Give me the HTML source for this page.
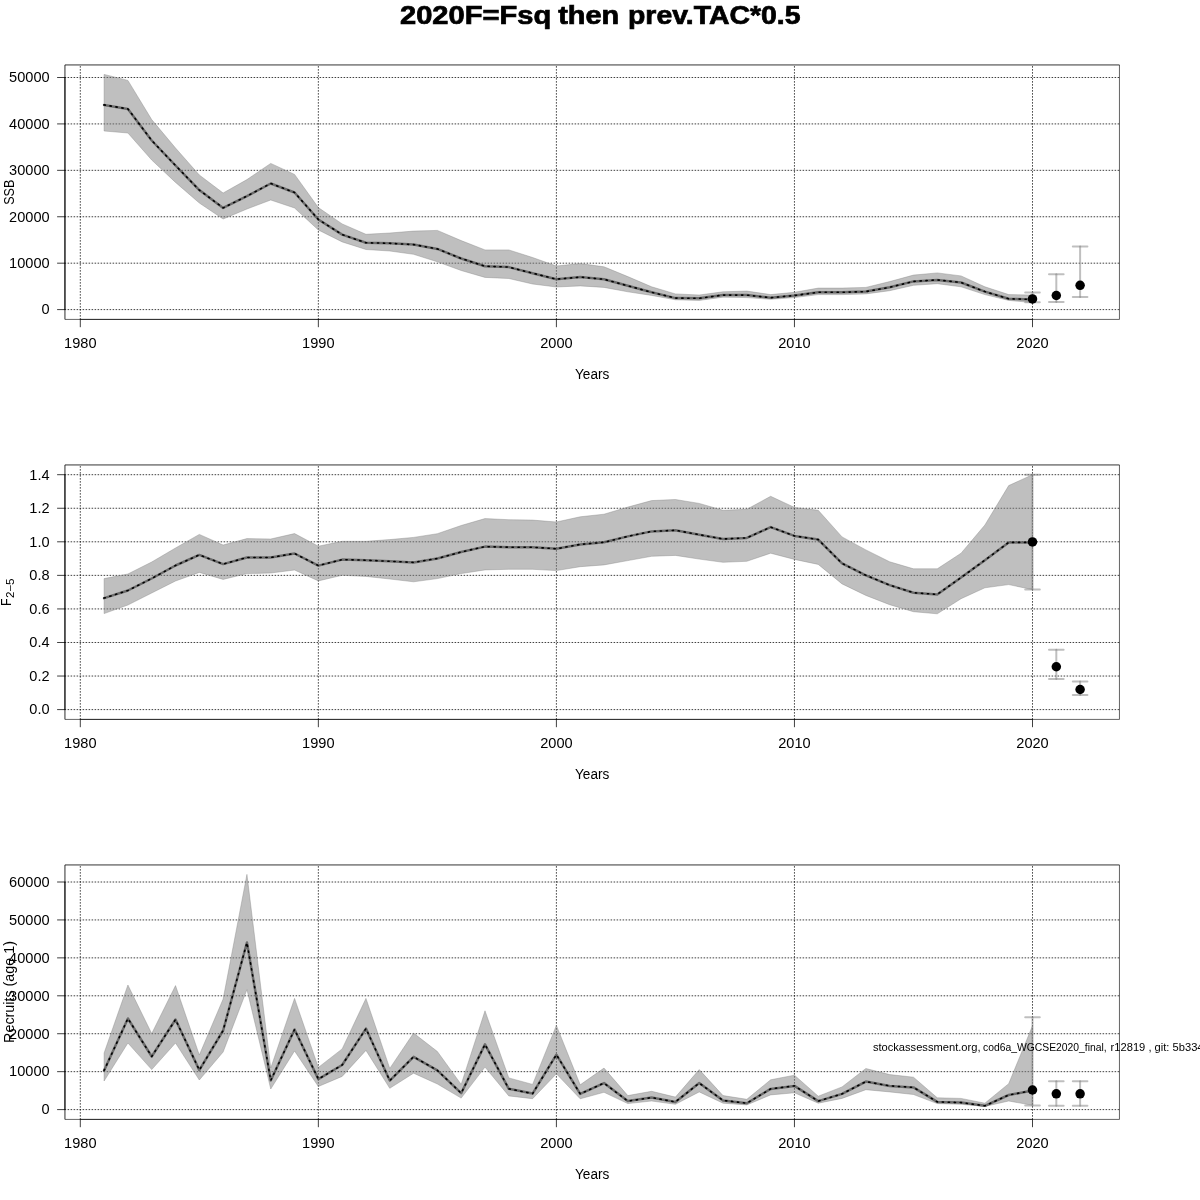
<!DOCTYPE html><html><head><meta charset="utf-8"><style>html,body{margin:0;padding:0;background:#fff;width:1200px;height:1200px;overflow:hidden}svg{display:block;will-change:transform}text{font-family:"Liberation Sans",sans-serif}</style></head><body>
<svg width="1200" height="1200" viewBox="0 0 1200 1200">
<rect width="1200" height="1200" fill="#fff"/>
<line x1="80.3" y1="65" x2="80.3" y2="319.3" stroke="#000" stroke-width="0.75" stroke-dasharray="0.75 2.25" stroke-dashoffset="1.5" stroke-linecap="round"/>
<line x1="318.35" y1="65" x2="318.35" y2="319.3" stroke="#000" stroke-width="0.75" stroke-dasharray="0.75 2.25" stroke-dashoffset="1.5" stroke-linecap="round"/>
<line x1="556.4" y1="65" x2="556.4" y2="319.3" stroke="#000" stroke-width="0.75" stroke-dasharray="0.75 2.25" stroke-dashoffset="1.5" stroke-linecap="round"/>
<line x1="794.45" y1="65" x2="794.45" y2="319.3" stroke="#000" stroke-width="0.75" stroke-dasharray="0.75 2.25" stroke-dashoffset="1.5" stroke-linecap="round"/>
<line x1="1032.5" y1="65" x2="1032.5" y2="319.3" stroke="#000" stroke-width="0.75" stroke-dasharray="0.75 2.25" stroke-dashoffset="1.5" stroke-linecap="round"/>
<line x1="65" y1="309.6" x2="1119.4" y2="309.6" stroke="#000" stroke-width="0.75" stroke-dasharray="0.75 2.25" stroke-linecap="round"/>
<line x1="65" y1="263.18" x2="1119.4" y2="263.18" stroke="#000" stroke-width="0.75" stroke-dasharray="0.75 2.25" stroke-linecap="round"/>
<line x1="65" y1="216.76" x2="1119.4" y2="216.76" stroke="#000" stroke-width="0.75" stroke-dasharray="0.75 2.25" stroke-linecap="round"/>
<line x1="65" y1="170.34" x2="1119.4" y2="170.34" stroke="#000" stroke-width="0.75" stroke-dasharray="0.75 2.25" stroke-linecap="round"/>
<line x1="65" y1="123.92" x2="1119.4" y2="123.92" stroke="#000" stroke-width="0.75" stroke-dasharray="0.75 2.25" stroke-linecap="round"/>
<line x1="65" y1="77.5" x2="1119.4" y2="77.5" stroke="#000" stroke-width="0.75" stroke-dasharray="0.75 2.25" stroke-linecap="round"/>
<polyline fill="none" stroke="rgba(0,0,0,0.65)" stroke-width="2.5" stroke-linejoin="round" stroke-linecap="round" points="104.1,104.9 127.91,108.9 151.71,140.5 175.52,165.5 199.32,190.1 223.13,207.9 246.94,196.1 270.74,183.5 294.55,192.5 318.35,219.5 342.16,234.6 365.96,242.8 389.76,243.3 413.57,244.6 437.38,248.9 461.18,258.5 484.99,266.2 508.79,267.1 532.6,273.2 556.4,279.2 580.2,277.1 604.01,279.3 627.81,285.8 651.62,292.3 675.42,298.1 699.23,298.3 723.03,295.1 746.84,295.1 770.64,297.7 794.45,295.5 818.25,292.3 842.06,292.3 865.86,291.6 889.67,287.3 913.47,281.4 937.28,279.9 961.08,282.5 984.89,291.6 1008.69,298.8 1032.5,299.4"/>
<polygon fill="rgba(127,127,127,0.5)" stroke="rgba(127,127,127,0.5)" stroke-width="0.75" stroke-linejoin="round" points="104.1,74.4 127.91,80.4 151.71,119.6 175.52,148 199.32,175 223.13,193 246.94,179.6 270.74,163.4 294.55,174.4 318.35,207.6 342.16,223.9 365.96,234.3 389.76,233 413.57,231.1 437.38,230.4 461.18,240.6 484.99,249.9 508.79,249.9 532.6,257.5 556.4,266 580.2,263.6 604.01,266.8 627.81,276.6 651.62,286.8 675.42,293.9 699.23,295 723.03,291.8 746.84,291.1 770.64,294.6 794.45,292.3 818.25,288.1 842.06,288.1 865.86,287.4 889.67,281.6 913.47,275.1 937.28,272.9 961.08,275.9 984.89,286.8 1008.69,294.6 1032.5,295 1032.5,302.6 1008.69,300.4 984.89,294.6 961.08,286.8 937.28,283.7 913.47,285.3 889.67,290.7 865.86,293.9 842.06,294.6 818.25,294.6 794.45,297.6 770.64,299.3 746.84,297.6 723.03,297.2 699.23,300.4 675.42,299.8 651.62,295.4 627.81,291.8 604.01,287.4 580.2,285.9 556.4,287 532.6,284 508.79,278.5 484.99,277.4 461.18,270.5 437.38,261.8 413.57,254.3 389.76,251 365.96,249.5 342.16,241.9 318.35,230 294.55,208 270.74,200 246.94,209 223.13,219 199.32,203 175.52,182.4 151.71,160 127.91,133 104.1,131"/>
<polyline fill="none" stroke="#000" stroke-width="1.6" stroke-dasharray="1.25 4.75" stroke-linejoin="round" stroke-linecap="round" points="104.1,104.9 127.91,108.9 151.71,140.5 175.52,165.5 199.32,190.1 223.13,207.9 246.94,196.1 270.74,183.5 294.55,192.5 318.35,219.5 342.16,234.6 365.96,242.8 389.76,243.3 413.57,244.6 437.38,248.9 461.18,258.5 484.99,266.2 508.79,267.1 532.6,273.2 556.4,279.2 580.2,277.1 604.01,279.3 627.81,285.8 651.62,292.3 675.42,298.1 699.23,298.3 723.03,295.1 746.84,295.1 770.64,297.7 794.45,295.5 818.25,292.3 842.06,292.3 865.86,291.6 889.67,287.3 913.47,281.4 937.28,279.9 961.08,282.5 984.89,291.6 1008.69,298.8 1032.5,299.4"/>
<path d="M1032.5 292.6V302.3" stroke="rgba(127,127,127,0.5)" stroke-width="2" stroke-linecap="round" fill="none"/>
<path d="M1025.2 292.6H1039.8" stroke="rgba(127,127,127,0.5)" stroke-width="2" stroke-linecap="round" fill="none"/>
<path d="M1025.2 302.3H1039.8" stroke="rgba(127,127,127,0.5)" stroke-width="2" stroke-linecap="round" fill="none"/>
<path d="M1056.31 274.2V302.1" stroke="rgba(127,127,127,0.5)" stroke-width="2" stroke-linecap="round" fill="none"/>
<path d="M1049.01 274.2H1063.61" stroke="rgba(127,127,127,0.5)" stroke-width="2" stroke-linecap="round" fill="none"/>
<path d="M1049.01 302.1H1063.61" stroke="rgba(127,127,127,0.5)" stroke-width="2" stroke-linecap="round" fill="none"/>
<path d="M1080.11 246.5V297.1" stroke="rgba(127,127,127,0.5)" stroke-width="2" stroke-linecap="round" fill="none"/>
<path d="M1072.81 246.5H1087.41" stroke="rgba(127,127,127,0.5)" stroke-width="2" stroke-linecap="round" fill="none"/>
<path d="M1072.81 297.1H1087.41" stroke="rgba(127,127,127,0.5)" stroke-width="2" stroke-linecap="round" fill="none"/>
<circle cx="1032.5" cy="298.9" r="4.75" fill="#000"/>
<circle cx="1056.31" cy="295.5" r="4.75" fill="#000"/>
<circle cx="1080.11" cy="285.3" r="4.75" fill="#000"/>
<path d="M64.95 64.95H1119.45" stroke="#000" stroke-width="0.8" fill="none"/>
<path d="M64.95 64.95V319.42" stroke="#000" stroke-width="0.83" fill="none"/>
<path d="M1119.45 64.95V319.42" stroke="#000" stroke-width="0.62" fill="none"/>
<path d="M64.95 319.42H1119.45" stroke="#000" stroke-width="0.6" fill="none"/>
<line x1="64.95" y1="77.5" x2="64.95" y2="309.6" stroke="#000" stroke-width="0.83"/>
<line x1="57.1" y1="309.6" x2="65" y2="309.6" stroke="#000" stroke-width="0.75"/>
<text x="49.6" y="314.4" font-size="14.0" text-anchor="end" textLength="8.1" lengthAdjust="spacingAndGlyphs">0</text>
<line x1="57.1" y1="263.18" x2="65" y2="263.18" stroke="#000" stroke-width="0.75"/>
<text x="49.6" y="267.98" font-size="14.0" text-anchor="end" textLength="40.52" lengthAdjust="spacingAndGlyphs">10000</text>
<line x1="57.1" y1="216.76" x2="65" y2="216.76" stroke="#000" stroke-width="0.75"/>
<text x="49.6" y="221.56" font-size="14.0" text-anchor="end" textLength="40.52" lengthAdjust="spacingAndGlyphs">20000</text>
<line x1="57.1" y1="170.34" x2="65" y2="170.34" stroke="#000" stroke-width="0.75"/>
<text x="49.6" y="175.14" font-size="14.0" text-anchor="end" textLength="40.52" lengthAdjust="spacingAndGlyphs">30000</text>
<line x1="57.1" y1="123.92" x2="65" y2="123.92" stroke="#000" stroke-width="0.75"/>
<text x="49.6" y="128.72" font-size="14.0" text-anchor="end" textLength="40.52" lengthAdjust="spacingAndGlyphs">40000</text>
<line x1="57.1" y1="77.5" x2="65" y2="77.5" stroke="#000" stroke-width="0.75"/>
<text x="49.6" y="82.3" font-size="14.0" text-anchor="end" textLength="40.52" lengthAdjust="spacingAndGlyphs">50000</text>
<line x1="80.3" y1="319.42" x2="1032.5" y2="319.42" stroke="#000" stroke-width="0.6"/>
<line x1="80.3" y1="319.3" x2="80.3" y2="327.2" stroke="#000" stroke-width="0.75"/>
<text x="80.3" y="347.9" font-size="14.0" text-anchor="middle" textLength="32.42" lengthAdjust="spacingAndGlyphs">1980</text>
<line x1="318.35" y1="319.3" x2="318.35" y2="327.2" stroke="#000" stroke-width="0.75"/>
<text x="318.35" y="347.9" font-size="14.0" text-anchor="middle" textLength="32.42" lengthAdjust="spacingAndGlyphs">1990</text>
<line x1="556.4" y1="319.3" x2="556.4" y2="327.2" stroke="#000" stroke-width="0.75"/>
<text x="556.4" y="347.9" font-size="14.0" text-anchor="middle" textLength="32.42" lengthAdjust="spacingAndGlyphs">2000</text>
<line x1="794.45" y1="319.3" x2="794.45" y2="327.2" stroke="#000" stroke-width="0.75"/>
<text x="794.45" y="347.9" font-size="14.0" text-anchor="middle" textLength="32.42" lengthAdjust="spacingAndGlyphs">2010</text>
<line x1="1032.5" y1="319.3" x2="1032.5" y2="327.2" stroke="#000" stroke-width="0.75"/>
<text x="1032.5" y="347.9" font-size="14.0" text-anchor="middle" textLength="32.42" lengthAdjust="spacingAndGlyphs">2020</text>
<text x="592.2" y="378.8" font-size="14.0" text-anchor="middle" textLength="34.3" lengthAdjust="spacingAndGlyphs">Years</text>
<text transform="translate(13.8,192.3) rotate(-90)" font-size="14" text-anchor="middle" textLength="25.1" lengthAdjust="spacingAndGlyphs">SSB</text>
<line x1="80.3" y1="465" x2="80.3" y2="719.3" stroke="#000" stroke-width="0.75" stroke-dasharray="0.75 2.25" stroke-dashoffset="1.5" stroke-linecap="round"/>
<line x1="318.35" y1="465" x2="318.35" y2="719.3" stroke="#000" stroke-width="0.75" stroke-dasharray="0.75 2.25" stroke-dashoffset="1.5" stroke-linecap="round"/>
<line x1="556.4" y1="465" x2="556.4" y2="719.3" stroke="#000" stroke-width="0.75" stroke-dasharray="0.75 2.25" stroke-dashoffset="1.5" stroke-linecap="round"/>
<line x1="794.45" y1="465" x2="794.45" y2="719.3" stroke="#000" stroke-width="0.75" stroke-dasharray="0.75 2.25" stroke-dashoffset="1.5" stroke-linecap="round"/>
<line x1="1032.5" y1="465" x2="1032.5" y2="719.3" stroke="#000" stroke-width="0.75" stroke-dasharray="0.75 2.25" stroke-dashoffset="1.5" stroke-linecap="round"/>
<line x1="65" y1="709.6" x2="1119.4" y2="709.6" stroke="#000" stroke-width="0.75" stroke-dasharray="0.75 2.25" stroke-linecap="round"/>
<line x1="65" y1="676.04" x2="1119.4" y2="676.04" stroke="#000" stroke-width="0.75" stroke-dasharray="0.75 2.25" stroke-linecap="round"/>
<line x1="65" y1="642.49" x2="1119.4" y2="642.49" stroke="#000" stroke-width="0.75" stroke-dasharray="0.75 2.25" stroke-linecap="round"/>
<line x1="65" y1="608.93" x2="1119.4" y2="608.93" stroke="#000" stroke-width="0.75" stroke-dasharray="0.75 2.25" stroke-linecap="round"/>
<line x1="65" y1="575.37" x2="1119.4" y2="575.37" stroke="#000" stroke-width="0.75" stroke-dasharray="0.75 2.25" stroke-linecap="round"/>
<line x1="65" y1="541.81" x2="1119.4" y2="541.81" stroke="#000" stroke-width="0.75" stroke-dasharray="0.75 2.25" stroke-linecap="round"/>
<line x1="65" y1="508.26" x2="1119.4" y2="508.26" stroke="#000" stroke-width="0.75" stroke-dasharray="0.75 2.25" stroke-linecap="round"/>
<line x1="65" y1="474.7" x2="1119.4" y2="474.7" stroke="#000" stroke-width="0.75" stroke-dasharray="0.75 2.25" stroke-linecap="round"/>
<polyline fill="none" stroke="rgba(0,0,0,0.65)" stroke-width="2.5" stroke-linejoin="round" stroke-linecap="round" points="104.1,598.1 127.91,590.5 151.71,578.5 175.52,565.5 199.32,554.9 223.13,564.1 246.94,557.5 270.74,557.5 294.55,553.5 318.35,565.6 342.16,559.6 365.96,560.2 389.76,561.3 413.57,562.4 437.38,558.5 461.18,552 484.99,546.6 508.79,547.2 532.6,547.2 556.4,548.8 580.2,544.4 604.01,542.3 627.81,536.4 651.62,531.4 675.42,530.3 699.23,534.7 723.03,539 746.84,537.9 770.64,527.1 794.45,535.9 818.25,539.6 842.06,563.4 865.86,575.3 889.67,585.1 913.47,592.7 937.28,594.4 961.08,577.5 984.89,560.2 1008.69,542.4 1032.5,542.4"/>
<polygon fill="rgba(127,127,127,0.5)" stroke="rgba(127,127,127,0.5)" stroke-width="0.75" stroke-linejoin="round" points="104.1,578.6 127.91,574 151.71,562 175.52,548 199.32,534.4 223.13,545 246.94,538.6 270.74,539 294.55,533.6 318.35,546.2 342.16,541.3 365.96,541.3 389.76,539.6 413.57,537.4 437.38,533.7 461.18,525.5 484.99,518.6 508.79,519.7 532.6,520.1 556.4,522 580.2,516.8 604.01,514.2 627.81,507.1 651.62,500.6 675.42,499.5 699.23,503.4 723.03,510.3 746.84,509.3 770.64,496.3 794.45,507.4 818.25,510.3 842.06,536.9 865.86,549.9 889.67,561.8 913.47,568.8 937.28,568.8 961.08,553.2 984.89,525 1008.69,485.6 1032.5,474.7 1032.5,589.6 1008.69,584.6 984.89,587.8 961.08,598.7 937.28,613.8 913.47,611.7 889.67,604.7 865.86,595.4 842.06,583.9 818.25,564.4 794.45,559.4 770.64,553.2 746.84,561.3 723.03,562.3 699.23,559.1 675.42,555.4 651.62,556.3 627.81,560.6 604.01,564.9 580.2,566.7 556.4,570.6 532.6,569.3 508.79,569.3 484.99,569.9 461.18,573.6 437.38,578.6 413.57,581.8 389.76,579 365.96,576.4 342.16,575.3 318.35,580.9 294.55,570 270.74,573 246.94,573.6 223.13,579.4 199.32,572.4 175.52,581 151.71,593 127.91,605 104.1,613.6"/>
<polyline fill="none" stroke="#000" stroke-width="1.6" stroke-dasharray="1.25 4.75" stroke-linejoin="round" stroke-linecap="round" points="104.1,598.1 127.91,590.5 151.71,578.5 175.52,565.5 199.32,554.9 223.13,564.1 246.94,557.5 270.74,557.5 294.55,553.5 318.35,565.6 342.16,559.6 365.96,560.2 389.76,561.3 413.57,562.4 437.38,558.5 461.18,552 484.99,546.6 508.79,547.2 532.6,547.2 556.4,548.8 580.2,544.4 604.01,542.3 627.81,536.4 651.62,531.4 675.42,530.3 699.23,534.7 723.03,539 746.84,537.9 770.64,527.1 794.45,535.9 818.25,539.6 842.06,563.4 865.86,575.3 889.67,585.1 913.47,592.7 937.28,594.4 961.08,577.5 984.89,560.2 1008.69,542.4 1032.5,542.4"/>
<path d="M1032.5 474.7V589.6" stroke="rgba(127,127,127,0.5)" stroke-width="2" stroke-linecap="round" fill="none"/>
<path d="M1025.2 474.7H1039.8" stroke="rgba(127,127,127,0.5)" stroke-width="2" stroke-linecap="round" fill="none"/>
<path d="M1025.2 589.6H1039.8" stroke="rgba(127,127,127,0.5)" stroke-width="2" stroke-linecap="round" fill="none"/>
<path d="M1056.31 649.7V679" stroke="rgba(127,127,127,0.5)" stroke-width="2" stroke-linecap="round" fill="none"/>
<path d="M1049.01 649.7H1063.61" stroke="rgba(127,127,127,0.5)" stroke-width="2" stroke-linecap="round" fill="none"/>
<path d="M1049.01 679H1063.61" stroke="rgba(127,127,127,0.5)" stroke-width="2" stroke-linecap="round" fill="none"/>
<path d="M1080.11 681.4V695.1" stroke="rgba(127,127,127,0.5)" stroke-width="2" stroke-linecap="round" fill="none"/>
<path d="M1072.81 681.4H1087.41" stroke="rgba(127,127,127,0.5)" stroke-width="2" stroke-linecap="round" fill="none"/>
<path d="M1072.81 695.1H1087.41" stroke="rgba(127,127,127,0.5)" stroke-width="2" stroke-linecap="round" fill="none"/>
<circle cx="1032.5" cy="541.9" r="4.75" fill="#000"/>
<circle cx="1056.31" cy="666.75" r="4.75" fill="#000"/>
<circle cx="1080.11" cy="689.5" r="4.75" fill="#000"/>
<path d="M64.95 464.95H1119.45" stroke="#000" stroke-width="0.8" fill="none"/>
<path d="M64.95 464.95V719.42" stroke="#000" stroke-width="0.83" fill="none"/>
<path d="M1119.45 464.95V719.42" stroke="#000" stroke-width="0.62" fill="none"/>
<path d="M64.95 719.42H1119.45" stroke="#000" stroke-width="0.6" fill="none"/>
<line x1="64.95" y1="474.7" x2="64.95" y2="709.6" stroke="#000" stroke-width="0.83"/>
<line x1="57.1" y1="709.6" x2="65" y2="709.6" stroke="#000" stroke-width="0.75"/>
<text x="49.6" y="714.4" font-size="14.0" text-anchor="end" textLength="20.26" lengthAdjust="spacingAndGlyphs">0.0</text>
<line x1="57.1" y1="676.04" x2="65" y2="676.04" stroke="#000" stroke-width="0.75"/>
<text x="49.6" y="680.84" font-size="14.0" text-anchor="end" textLength="20.26" lengthAdjust="spacingAndGlyphs">0.2</text>
<line x1="57.1" y1="642.49" x2="65" y2="642.49" stroke="#000" stroke-width="0.75"/>
<text x="49.6" y="647.29" font-size="14.0" text-anchor="end" textLength="20.26" lengthAdjust="spacingAndGlyphs">0.4</text>
<line x1="57.1" y1="608.93" x2="65" y2="608.93" stroke="#000" stroke-width="0.75"/>
<text x="49.6" y="613.73" font-size="14.0" text-anchor="end" textLength="20.26" lengthAdjust="spacingAndGlyphs">0.6</text>
<line x1="57.1" y1="575.37" x2="65" y2="575.37" stroke="#000" stroke-width="0.75"/>
<text x="49.6" y="580.17" font-size="14.0" text-anchor="end" textLength="20.26" lengthAdjust="spacingAndGlyphs">0.8</text>
<line x1="57.1" y1="541.81" x2="65" y2="541.81" stroke="#000" stroke-width="0.75"/>
<text x="49.6" y="546.61" font-size="14.0" text-anchor="end" textLength="20.26" lengthAdjust="spacingAndGlyphs">1.0</text>
<line x1="57.1" y1="508.26" x2="65" y2="508.26" stroke="#000" stroke-width="0.75"/>
<text x="49.6" y="513.06" font-size="14.0" text-anchor="end" textLength="20.26" lengthAdjust="spacingAndGlyphs">1.2</text>
<line x1="57.1" y1="474.7" x2="65" y2="474.7" stroke="#000" stroke-width="0.75"/>
<text x="49.6" y="479.5" font-size="14.0" text-anchor="end" textLength="20.26" lengthAdjust="spacingAndGlyphs">1.4</text>
<line x1="80.3" y1="719.42" x2="1032.5" y2="719.42" stroke="#000" stroke-width="0.6"/>
<line x1="80.3" y1="719.3" x2="80.3" y2="727.2" stroke="#000" stroke-width="0.75"/>
<text x="80.3" y="747.9" font-size="14.0" text-anchor="middle" textLength="32.42" lengthAdjust="spacingAndGlyphs">1980</text>
<line x1="318.35" y1="719.3" x2="318.35" y2="727.2" stroke="#000" stroke-width="0.75"/>
<text x="318.35" y="747.9" font-size="14.0" text-anchor="middle" textLength="32.42" lengthAdjust="spacingAndGlyphs">1990</text>
<line x1="556.4" y1="719.3" x2="556.4" y2="727.2" stroke="#000" stroke-width="0.75"/>
<text x="556.4" y="747.9" font-size="14.0" text-anchor="middle" textLength="32.42" lengthAdjust="spacingAndGlyphs">2000</text>
<line x1="794.45" y1="719.3" x2="794.45" y2="727.2" stroke="#000" stroke-width="0.75"/>
<text x="794.45" y="747.9" font-size="14.0" text-anchor="middle" textLength="32.42" lengthAdjust="spacingAndGlyphs">2010</text>
<line x1="1032.5" y1="719.3" x2="1032.5" y2="727.2" stroke="#000" stroke-width="0.75"/>
<text x="1032.5" y="747.9" font-size="14.0" text-anchor="middle" textLength="32.42" lengthAdjust="spacingAndGlyphs">2020</text>
<text x="592.2" y="778.8" font-size="14.0" text-anchor="middle" textLength="34.3" lengthAdjust="spacingAndGlyphs">Years</text>
<g transform="translate(10.9,605.9) rotate(-90)"><text x="0" y="0" font-size="14" textLength="7.6" lengthAdjust="spacingAndGlyphs">F</text><text x="7.8" y="3.3" font-size="10.4" textLength="19.6" lengthAdjust="spacingAndGlyphs">2−5</text></g>
<line x1="80.3" y1="865" x2="80.3" y2="1119.3" stroke="#000" stroke-width="0.75" stroke-dasharray="0.75 2.25" stroke-dashoffset="1.5" stroke-linecap="round"/>
<line x1="318.35" y1="865" x2="318.35" y2="1119.3" stroke="#000" stroke-width="0.75" stroke-dasharray="0.75 2.25" stroke-dashoffset="1.5" stroke-linecap="round"/>
<line x1="556.4" y1="865" x2="556.4" y2="1119.3" stroke="#000" stroke-width="0.75" stroke-dasharray="0.75 2.25" stroke-dashoffset="1.5" stroke-linecap="round"/>
<line x1="794.45" y1="865" x2="794.45" y2="1119.3" stroke="#000" stroke-width="0.75" stroke-dasharray="0.75 2.25" stroke-dashoffset="1.5" stroke-linecap="round"/>
<line x1="1032.5" y1="865" x2="1032.5" y2="1119.3" stroke="#000" stroke-width="0.75" stroke-dasharray="0.75 2.25" stroke-dashoffset="1.5" stroke-linecap="round"/>
<line x1="65" y1="1109.6" x2="1119.4" y2="1109.6" stroke="#000" stroke-width="0.75" stroke-dasharray="0.75 2.25" stroke-linecap="round"/>
<line x1="65" y1="1071.67" x2="1119.4" y2="1071.67" stroke="#000" stroke-width="0.75" stroke-dasharray="0.75 2.25" stroke-linecap="round"/>
<line x1="65" y1="1033.73" x2="1119.4" y2="1033.73" stroke="#000" stroke-width="0.75" stroke-dasharray="0.75 2.25" stroke-linecap="round"/>
<line x1="65" y1="995.8" x2="1119.4" y2="995.8" stroke="#000" stroke-width="0.75" stroke-dasharray="0.75 2.25" stroke-linecap="round"/>
<line x1="65" y1="957.87" x2="1119.4" y2="957.87" stroke="#000" stroke-width="0.75" stroke-dasharray="0.75 2.25" stroke-linecap="round"/>
<line x1="65" y1="919.93" x2="1119.4" y2="919.93" stroke="#000" stroke-width="0.75" stroke-dasharray="0.75 2.25" stroke-linecap="round"/>
<line x1="65" y1="882" x2="1119.4" y2="882" stroke="#000" stroke-width="0.75" stroke-dasharray="0.75 2.25" stroke-linecap="round"/>
<polyline fill="none" stroke="rgba(0,0,0,0.65)" stroke-width="2.5" stroke-linejoin="round" stroke-linecap="round" points="104.1,1070.5 127.91,1018.5 151.71,1056.5 175.52,1019.5 199.32,1070.1 223.13,1030.5 246.94,942.5 270.74,1080.5 294.55,1029.5 318.35,1079.1 342.16,1065 365.96,1028.6 389.76,1080.6 413.57,1056.8 437.38,1070.4 461.18,1093.2 484.99,1044.4 508.79,1088.8 532.6,1093.6 556.4,1054.7 580.2,1093.9 604.01,1083.1 627.81,1101.1 651.62,1097.6 675.42,1101.9 699.23,1083.1 723.03,1100.4 746.84,1103.2 770.64,1088.9 794.45,1085.9 818.25,1101.1 842.06,1093.9 865.86,1081.6 889.67,1085.9 913.47,1087.4 937.28,1101.9 961.08,1102.6 984.89,1105.8 1008.69,1095 1032.5,1090.6"/>
<polygon fill="rgba(127,127,127,0.5)" stroke="rgba(127,127,127,0.5)" stroke-width="0.75" stroke-linejoin="round" points="104.1,1053 127.91,985 151.71,1033.6 175.52,985.6 199.32,1055 223.13,999 246.94,874.4 270.74,1068 294.55,998.4 318.35,1067.4 342.16,1048.9 365.96,998.4 389.76,1068.4 413.57,1033.1 437.38,1051.5 461.18,1084.4 484.99,1010.8 508.79,1077.9 532.6,1084.4 556.4,1025.4 580.2,1084.8 604.01,1068.1 627.81,1095.6 651.62,1091.3 675.42,1097.1 699.23,1069.6 723.03,1095.6 746.84,1099.3 770.64,1079.8 794.45,1075.2 818.25,1096.2 842.06,1086.9 865.86,1068.5 889.67,1074.6 913.47,1077.2 937.28,1097.8 961.08,1098.4 984.89,1103.2 1008.69,1083.7 1032.5,1025.8 1032.5,1105.3 1008.69,1101 984.89,1106.4 961.08,1104.3 937.28,1103.6 913.47,1094.5 889.67,1091.9 865.86,1089.7 842.06,1098.4 818.25,1103.2 794.45,1092.8 770.64,1094.9 746.84,1104.9 723.03,1103.2 699.23,1091.9 675.42,1104.3 651.62,1101 627.81,1103.6 604.01,1092.3 580.2,1098.8 556.4,1073.8 532.6,1098.7 508.79,1095.9 484.99,1067.1 461.18,1098.1 437.38,1084 413.57,1073.2 389.76,1088.3 365.96,1050.4 342.16,1076.4 318.35,1086.5 294.55,1051 270.74,1089 246.94,989.6 223.13,1052 199.32,1080 175.52,1043 151.71,1069.6 127.91,1043 104.1,1081"/>
<polyline fill="none" stroke="#000" stroke-width="1.6" stroke-dasharray="1.25 4.75" stroke-linejoin="round" stroke-linecap="round" points="104.1,1070.5 127.91,1018.5 151.71,1056.5 175.52,1019.5 199.32,1070.1 223.13,1030.5 246.94,942.5 270.74,1080.5 294.55,1029.5 318.35,1079.1 342.16,1065 365.96,1028.6 389.76,1080.6 413.57,1056.8 437.38,1070.4 461.18,1093.2 484.99,1044.4 508.79,1088.8 532.6,1093.6 556.4,1054.7 580.2,1093.9 604.01,1083.1 627.81,1101.1 651.62,1097.6 675.42,1101.9 699.23,1083.1 723.03,1100.4 746.84,1103.2 770.64,1088.9 794.45,1085.9 818.25,1101.1 842.06,1093.9 865.86,1081.6 889.67,1085.9 913.47,1087.4 937.28,1101.9 961.08,1102.6 984.89,1105.8 1008.69,1095 1032.5,1090.6"/>
<path d="M1032.5 1017.2V1105.5" stroke="rgba(127,127,127,0.5)" stroke-width="2" stroke-linecap="round" fill="none"/>
<path d="M1025.2 1017.2H1039.8" stroke="rgba(127,127,127,0.5)" stroke-width="2" stroke-linecap="round" fill="none"/>
<path d="M1025.2 1105.5H1039.8" stroke="rgba(127,127,127,0.5)" stroke-width="2" stroke-linecap="round" fill="none"/>
<path d="M1056.31 1081.2V1105.8" stroke="rgba(127,127,127,0.5)" stroke-width="2" stroke-linecap="round" fill="none"/>
<path d="M1049.01 1081.2H1063.61" stroke="rgba(127,127,127,0.5)" stroke-width="2" stroke-linecap="round" fill="none"/>
<path d="M1049.01 1105.8H1063.61" stroke="rgba(127,127,127,0.5)" stroke-width="2" stroke-linecap="round" fill="none"/>
<path d="M1080.11 1081.2V1105.8" stroke="rgba(127,127,127,0.5)" stroke-width="2" stroke-linecap="round" fill="none"/>
<path d="M1072.81 1081.2H1087.41" stroke="rgba(127,127,127,0.5)" stroke-width="2" stroke-linecap="round" fill="none"/>
<path d="M1072.81 1105.8H1087.41" stroke="rgba(127,127,127,0.5)" stroke-width="2" stroke-linecap="round" fill="none"/>
<circle cx="1032.5" cy="1090" r="4.75" fill="#000"/>
<circle cx="1056.31" cy="1093.8" r="4.75" fill="#000"/>
<circle cx="1080.11" cy="1093.8" r="4.75" fill="#000"/>
<path d="M64.95 864.95H1119.45" stroke="#000" stroke-width="0.8" fill="none"/>
<path d="M64.95 864.95V1119.42" stroke="#000" stroke-width="0.83" fill="none"/>
<path d="M1119.45 864.95V1119.42" stroke="#000" stroke-width="0.62" fill="none"/>
<path d="M64.95 1119.42H1119.45" stroke="#000" stroke-width="0.6" fill="none"/>
<line x1="64.95" y1="882" x2="64.95" y2="1109.6" stroke="#000" stroke-width="0.83"/>
<line x1="57.1" y1="1109.6" x2="65" y2="1109.6" stroke="#000" stroke-width="0.75"/>
<text x="49.6" y="1114.4" font-size="14.0" text-anchor="end" textLength="8.1" lengthAdjust="spacingAndGlyphs">0</text>
<line x1="57.1" y1="1071.67" x2="65" y2="1071.67" stroke="#000" stroke-width="0.75"/>
<text x="49.6" y="1076.47" font-size="14.0" text-anchor="end" textLength="40.52" lengthAdjust="spacingAndGlyphs">10000</text>
<line x1="57.1" y1="1033.73" x2="65" y2="1033.73" stroke="#000" stroke-width="0.75"/>
<text x="49.6" y="1038.53" font-size="14.0" text-anchor="end" textLength="40.52" lengthAdjust="spacingAndGlyphs">20000</text>
<line x1="57.1" y1="995.8" x2="65" y2="995.8" stroke="#000" stroke-width="0.75"/>
<text x="49.6" y="1000.6" font-size="14.0" text-anchor="end" textLength="40.52" lengthAdjust="spacingAndGlyphs">30000</text>
<line x1="57.1" y1="957.87" x2="65" y2="957.87" stroke="#000" stroke-width="0.75"/>
<text x="49.6" y="962.67" font-size="14.0" text-anchor="end" textLength="40.52" lengthAdjust="spacingAndGlyphs">40000</text>
<line x1="57.1" y1="919.93" x2="65" y2="919.93" stroke="#000" stroke-width="0.75"/>
<text x="49.6" y="924.73" font-size="14.0" text-anchor="end" textLength="40.52" lengthAdjust="spacingAndGlyphs">50000</text>
<line x1="57.1" y1="882" x2="65" y2="882" stroke="#000" stroke-width="0.75"/>
<text x="49.6" y="886.8" font-size="14.0" text-anchor="end" textLength="40.52" lengthAdjust="spacingAndGlyphs">60000</text>
<line x1="80.3" y1="1119.42" x2="1032.5" y2="1119.42" stroke="#000" stroke-width="0.6"/>
<line x1="80.3" y1="1119.3" x2="80.3" y2="1127.2" stroke="#000" stroke-width="0.75"/>
<text x="80.3" y="1147.9" font-size="14.0" text-anchor="middle" textLength="32.42" lengthAdjust="spacingAndGlyphs">1980</text>
<line x1="318.35" y1="1119.3" x2="318.35" y2="1127.2" stroke="#000" stroke-width="0.75"/>
<text x="318.35" y="1147.9" font-size="14.0" text-anchor="middle" textLength="32.42" lengthAdjust="spacingAndGlyphs">1990</text>
<line x1="556.4" y1="1119.3" x2="556.4" y2="1127.2" stroke="#000" stroke-width="0.75"/>
<text x="556.4" y="1147.9" font-size="14.0" text-anchor="middle" textLength="32.42" lengthAdjust="spacingAndGlyphs">2000</text>
<line x1="794.45" y1="1119.3" x2="794.45" y2="1127.2" stroke="#000" stroke-width="0.75"/>
<text x="794.45" y="1147.9" font-size="14.0" text-anchor="middle" textLength="32.42" lengthAdjust="spacingAndGlyphs">2010</text>
<line x1="1032.5" y1="1119.3" x2="1032.5" y2="1127.2" stroke="#000" stroke-width="0.75"/>
<text x="1032.5" y="1147.9" font-size="14.0" text-anchor="middle" textLength="32.42" lengthAdjust="spacingAndGlyphs">2020</text>
<text x="592.2" y="1178.8" font-size="14.0" text-anchor="middle" textLength="34.3" lengthAdjust="spacingAndGlyphs">Years</text>
<text transform="translate(13.8,992) rotate(-90)" font-size="14" text-anchor="middle" textLength="101.8" lengthAdjust="spacingAndGlyphs">Recruits (age 1)</text>
<text x="400" y="23.9" font-size="24.9" font-weight="bold" stroke="#000" stroke-width="0.7" textLength="151.2" lengthAdjust="spacingAndGlyphs">2020F=Fsq</text>
<text x="558.2" y="23.9" font-size="24.9" font-weight="bold" stroke="#000" stroke-width="0.7" textLength="61" lengthAdjust="spacingAndGlyphs">then</text>
<text x="628" y="23.9" font-size="24.9" font-weight="bold" stroke="#000" stroke-width="0.7" textLength="172.5" lengthAdjust="spacingAndGlyphs">prev.TAC*0.5</text>
<text x="872.9" y="1051" font-size="10.4" textLength="107.6" lengthAdjust="spacingAndGlyphs">stockassessment.org,</text>
<text x="983" y="1051" font-size="10.4" textLength="123.68" lengthAdjust="spacingAndGlyphs">cod6a_WGCSE2020_final,</text>
<text x="1110.6" y="1051" font-size="10.4" textLength="99.13" lengthAdjust="spacingAndGlyphs">r12819 , git: 5b3348</text>
</svg></body></html>
